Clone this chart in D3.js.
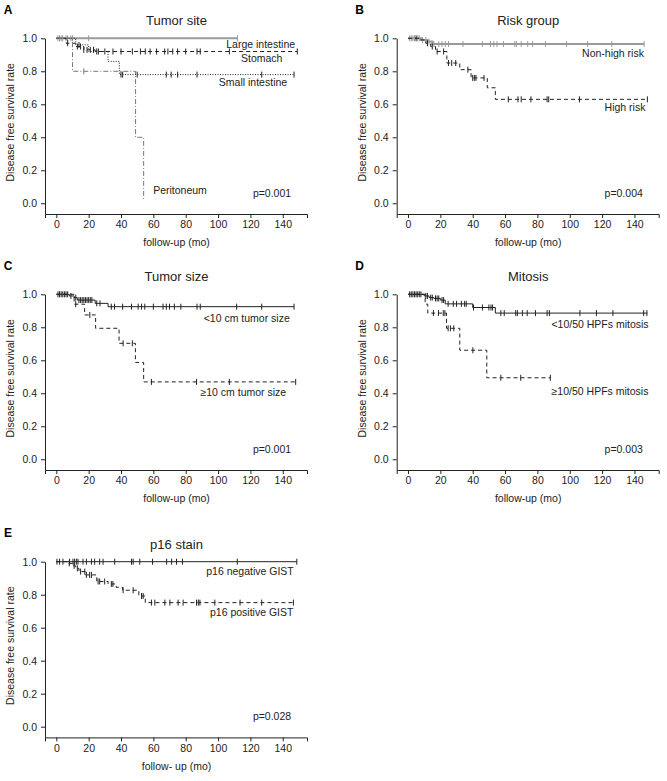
<!DOCTYPE html>
<html><head><meta charset="utf-8">
<script src="https://cdn.jsdelivr.net/npm/d3@7"></script>
<style>
body{margin:0;background:#fff;}
svg{font-family:"Liberation Sans",Arial,Helvetica,sans-serif;}
</style></head>
<body>
<svg id="chart" width="667" height="781"></svg>
<script>
// ---------- DATA ----------
const xTicks = [0, 20, 40, 60, 80, 100, 120, 140];
const yTicks = [0, 0.2, 0.4, 0.6, 0.8, 1.0];
const panelLetters = ["A", "B", "C", "D", "E"];
const panelTitles = ["Tumor site", "Risk group", "Tumor size", "Mitosis", "p16 stain"];
const pValues = ["p=0.001", "p=0.004", "p=0.001", "p=0.003", "p=0.028"];
const xLabels = ["follow-up (mo)", "follow-up (mo)", "follow-up (mo)", "follow-up (mo)", "follow- up (mo)"];

// Panel A: tumor site  (steps: [time, survival after event])
const aLargeSteps = [];
const aLargeCens = [1, 2, 3, 4, 6, 7, 9, 10, 20, 112];
const aStomSteps = [[6, 0.97], [12, 0.95], [17, 0.93], [24, 0.92]];
const aStomCens = [7, 13, 15, 17, 19, 21, 23, 25, 26, 30, 35, 40, 47, 52, 55, 58, 62, 67, 69, 72, 75, 80, 87, 89, 107, 149];
const aSmallSteps = [[12, 0.96], [20, 0.92], [32, 0.86], [39, 0.78]];
const aSmallCens = [14, 40, 41, 50, 68, 71, 75, 87, 127, 147];
const aPeriSteps = [[10, 0.8], [49, 0.4], [54, 0.02]];
const aPeriCens = [17];

// Panel B: risk group
const bNonHighSteps = [[8, 0.99], [12, 0.98], [15, 0.965]];
const bNonHighCens = [1, 2, 3, 4, 6, 7, 9, 11, 13, 16, 19, 21, 23, 25, 34, 46, 51, 53, 55, 59, 66, 67, 70, 74, 77, 85, 98, 111, 126, 146];
const bHighSteps = [[8, 0.99], [11, 0.97], [14, 0.95], [17, 0.92], [24, 0.85], [32, 0.81], [39, 0.76], [49, 0.70], [54, 0.63]];
const bHighCens = [5, 12, 15, 18, 22, 25, 27, 29.5, 37, 40, 41, 42, 47, 62, 68, 70, 76, 86, 87, 106, 148];

// Panel C: tumor size
const cSmallSteps = [[8, 0.99], [11, 0.98], [13, 0.965], [24, 0.945], [32, 0.925]];
const cSmallCens = [1, 2, 3, 4, 5, 6, 7, 9, 12, 14, 15, 16, 17, 18, 19, 20, 21, 22, 25, 27, 34, 36, 41, 46.5, 50.6, 52.7, 54.7, 60, 66, 68, 70, 73, 77, 87, 89, 111.5, 127, 147];
const cLargeSteps = [[11, 0.94], [17.5, 0.875], [24.3, 0.794], [38.8, 0.703], [48.9, 0.587], [54, 0.469]];
const cLargeCens = [12, 20.7, 41.3, 47, 58.8, 86.7, 107, 148];

// Panel D: mitosis
const dLowSteps = [[10, 0.99], [13, 0.98], [16, 0.975], [20, 0.965], [23, 0.942], [40, 0.92], [54, 0.886]];
const dLowCens = [1, 2, 3, 4, 5, 6, 7, 8, 11, 12, 14, 15, 17, 18, 19, 21, 22, 24.8, 28, 30, 33, 35, 36, 40.5, 46, 50, 51.3, 52.3, 57.4, 59.5, 66.6, 67.6, 70.7, 73.7, 78.8, 86, 87.4, 106.3, 116.5, 126.7, 145.7, 147.7];
const dHighSteps = [[10.6, 0.94], [12.2, 0.886], [23.8, 0.794], [32, 0.661], [48.7, 0.494]];
const dHighCens = [15.7, 18.8, 21.8, 22.8, 24.8, 26.2, 28.3, 40.1, 57.4, 69.7, 88];

// Panel E: p16 stain
const eNegSteps = [];
const eNegCens = [0.4, 2, 4.1, 8.2, 10.3, 11.3, 12.4, 13.4, 16.5, 18.6, 21.7, 23.7, 26.8, 28.9, 36.1, 46.5, 47.5, 51.6, 59.5, 68.2, 71.3, 74.3, 78, 111.9, 148.7];
const ePosSteps = [[7, 0.99], [10, 0.975], [12, 0.96], [14, 0.94], [18, 0.92], [25, 0.88], [32, 0.865], [37, 0.845], [41, 0.827], [51, 0.792], [55, 0.752]];
const ePosCens = [8, 11, 13, 15, 17.6, 18.6, 20.6, 21.7, 25.8, 26.8, 29.9, 34, 35, 41.3, 47.5, 52.7, 53.7, 58.8, 60.9, 67.1, 70.2, 75.3, 78.4, 86.7, 87.8, 88.8, 98, 113.6, 127, 146.6];

// ---------- STYLES / LAYOUT ----------
const styles = {
  solidGray: {stroke: "#9a9a9a", width: 2, dash: null},
  solidBlack: {stroke: "#222", width: 1, dash: null},
  dashed: {stroke: "#222", width: 1, dash: "4,3"},
  dotted: {stroke: "#222", width: 1, dash: "1,1.5"},
  dashDot: {stroke: "#777", width: 1, dash: "5,2,1,2"}
};

const panels = [
  {ox: 45, oy: 38.3, series: [
    {steps: aLargeSteps, cens: aLargeCens, end: 112, style: "solidGray", label: "Large intestine", lx: 215.7, ly: 5.7},
    {steps: aStomSteps, cens: aStomCens, end: 149, style: "dashed", label: "Stomach", lx: 216.7, ly: 20},
    {steps: aSmallSteps, cens: aSmallCens, end: 147, style: "dotted", label: "Small intestine", lx: 208, ly: 43.4},
    {steps: aPeriSteps, cens: aPeriCens, end: 54, style: "dashDot", label: "Peritoneum", lx: 135, ly: 151.7}
  ]},
  {ox: 396.7, oy: 38.3, series: [
    {steps: bNonHighSteps, cens: bNonHighCens, end: 146, style: "solidGray", label: "Non-high risk", lx: 216.3, ly: 14.4},
    {steps: bHighSteps, cens: bHighCens, end: 148, style: "dashed", label: "High risk", lx: 228.3, ly: 69}
  ]},
  {ox: 45, oy: 294.3, series: [
    {steps: cSmallSteps, cens: cSmallCens, end: 147, style: "solidBlack", label: "<10 cm tumor size", lx: 201.7, ly: 23.4},
    {steps: cLargeSteps, cens: cLargeCens, end: 148, style: "dashed", label: "\u226510 cm tumor size", lx: 198.3, ly: 97.4}
  ]},
  {ox: 396.7, oy: 294.3, series: [
    {steps: dLowSteps, cens: dLowCens, end: 148, style: "solidBlack", label: "<10/50 HPFs mitosis", lx: 203.3, ly: 30},
    {steps: dHighSteps, cens: dHighCens, end: 88, style: "dashed", label: "\u226510/50 HPFs mitosis", lx: 203.3, ly: 96.7}
  ]},
  {ox: 45, oy: 561.7, series: [
    {steps: eNegSteps, cens: eNegCens, end: 148.7, style: "solidBlack", label: "p16 negative GIST", lx: 205, ly: 9.3},
    {steps: ePosSteps, cens: ePosCens, end: 147, style: "dashed", label: "p16 positive GIST", lx: 206.7, ly: 50}
  ]}
];

const plotW = 262, plotH = 175.7;
const svg = d3.select("#chart");

function survAt(steps, t) {
  let s = 1;
  for (const [tt, ss] of steps) if (tt <= t) s = ss;
  return s;
}

panels.forEach((p, i) => {
  const g = svg.append("g");
  const x = d3.scaleLinear().domain([-7, 155]).range([p.ox, p.ox + plotW]);
  const y = d3.scaleLinear().domain([-0.065, 1]).range([p.oy + plotH, p.oy]);

  // axes
  const xa = g.append("g").attr("transform", `translate(0,${p.oy + plotH})`)
    .call(d3.axisBottom(x).tickValues(xTicks).tickSize(4).tickSizeOuter(4).tickPadding(3));
  const ya = g.append("g").attr("transform", `translate(${p.ox},0)`)
    .call(d3.axisLeft(y).tickValues(yTicks).tickFormat(d3.format(".1f")).tickSize(4).tickSizeOuter(0).tickPadding(4));
  [xa, ya].forEach(a => {
    a.selectAll("text").attr("font-size", 10.5).attr("fill", "#222").attr("font-family", "Liberation Sans, Arial, sans-serif");
    a.selectAll("path,line").attr("stroke", "#222").attr("stroke-width", 1);
  });

  // curves
  const line = d3.line().x(d => x(d[0])).y(d => y(d[1])).curve(d3.curveStepAfter);
  p.series.forEach(s => {
    const st = styles[s.style];
    const last = s.steps.length ? s.steps[s.steps.length - 1][1] : 1;
    const pts = [[0, 1], ...s.steps, [s.end, last]];
    g.append("path").attr("d", line(pts)).attr("fill", "none")
      .attr("stroke", st.stroke).attr("stroke-width", st.width)
      .attr("stroke-dasharray", st.dash);
    g.selectAll(null).data(s.cens).enter().append("line")
      .attr("x1", d => x(d)).attr("x2", d => x(d))
      .attr("y1", d => y(survAt(s.steps, d)) - 3).attr("y2", d => y(survAt(s.steps, d)) + 3)
      .attr("stroke", st.stroke).attr("stroke-width", 1);
    g.append("text").attr("x", p.ox + s.lx).attr("y", p.oy + s.ly)
      .attr("text-anchor", "middle").attr("dominant-baseline", "central")
      .attr("font-size", 10.5).attr("fill", "#222").text(s.label);
  });

  // texts
  g.append("text").attr("x", p.ox - 37).attr("y", p.oy - 28.5)
    .attr("dominant-baseline", "central").attr("text-anchor", "middle")
    .attr("font-size", 12).attr("font-weight", "bold").text(panelLetters[i]);
  g.append("text").attr("x", p.ox + 131.5).attr("y", p.oy - 17.4)
    .attr("dominant-baseline", "central").attr("text-anchor", "middle")
    .attr("font-size", 13).attr("fill", "#222").text(panelTitles[i]);
  g.append("text").attr("transform", `translate(${p.ox - 35},${p.oy + 84}) rotate(-90)`)
    .attr("dominant-baseline", "central").attr("text-anchor", "middle")
    .attr("font-size", 10.5).attr("fill", "#222").text("Disease free survival rate");
  g.append("text").attr("x", p.ox + 131.5).attr("y", p.oy + 204)
    .attr("dominant-baseline", "central").attr("text-anchor", "middle")
    .attr("font-size", 10.5).attr("fill", "#222").text(xLabels[i]);
  g.append("text").attr("x", p.ox + 227).attr("y", p.oy + 154.4)
    .attr("dominant-baseline", "central").attr("text-anchor", "middle")
    .attr("font-size", 10.5).attr("fill", "#222").text(pValues[i]);
});
</script>
</body></html>
